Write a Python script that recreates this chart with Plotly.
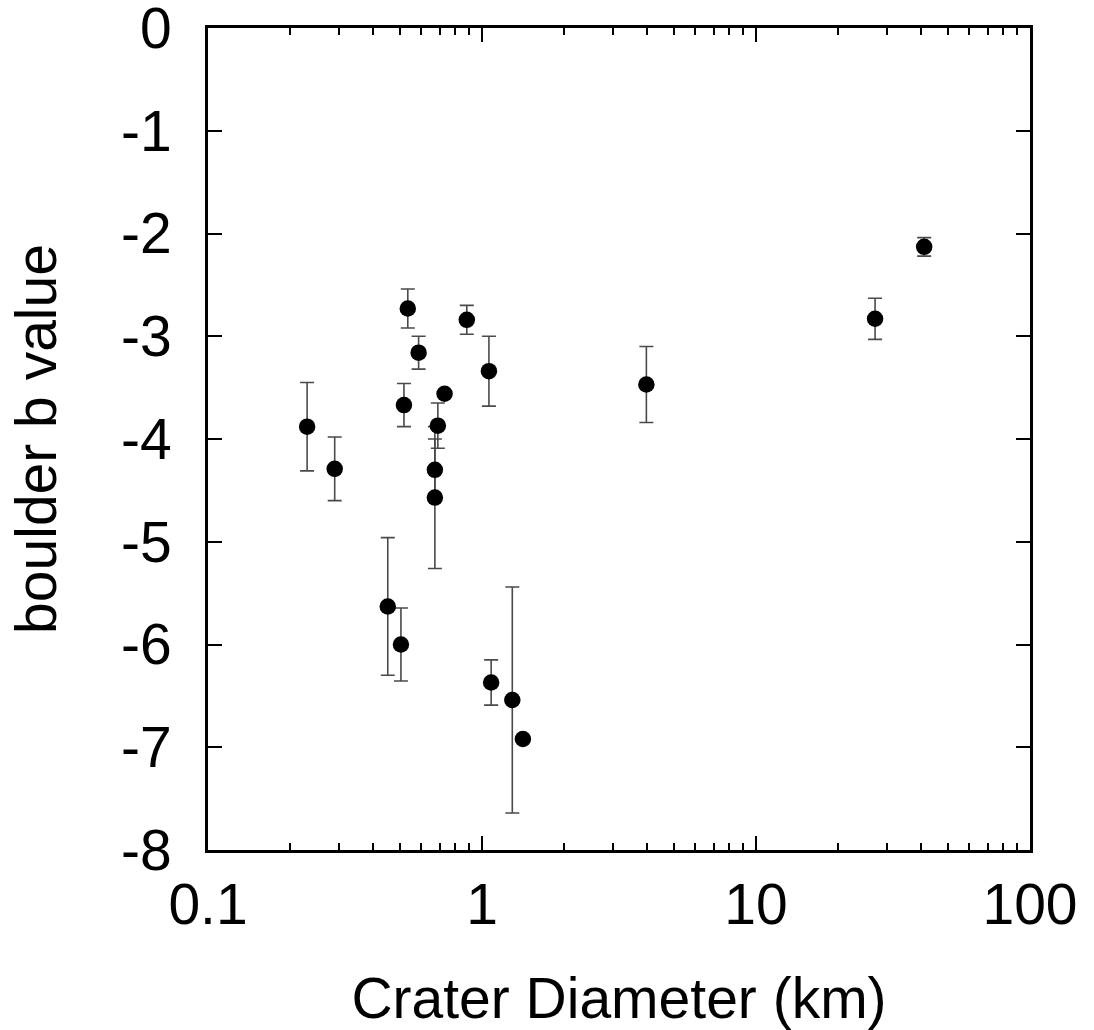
import plotly.graph_objects as go

diameter_km = [0.23, 0.29, 0.536, 0.587, 0.519, 0.73, 0.69, 0.673, 0.673, 0.88, 1.06,
               0.453, 0.506, 1.08, 1.29, 1.41, 3.98, 27.2, 41.1]
b_value = [-3.88, -4.29, -2.73, -3.16, -3.67, -3.56, -3.87, -4.30, -4.57, -2.84, -3.34,
           -5.63, -6.00, -6.37, -6.54, -6.92, -3.47, -2.83, -2.13]
b_error = [0.43, 0.31, 0.19, 0.16, 0.21, 0.0, 0.22, 0.30, 0.69, 0.14, 0.34,
           0.67, 0.355, 0.22, 1.10, 0.0, 0.37, 0.20, 0.09]

x_tickvals = [0.1, 1, 10, 100]
x_ticktext = ["0.1", "1", "10", "100"]
y_tickvals = [0, -1, -2, -3, -4, -5, -6, -7, -8]
y_ticktext = ["0", "-1", "-2", "-3", "-4", "-5", "-6", "-7", "-8"]

FONT = "Liberation Sans, Arial, Helvetica, sans-serif"

fig = go.Figure()
fig.add_trace(go.Scatter(
    x=diameter_km, y=b_value, mode="markers",
    marker=dict(size=16.5, color="black"),
    error_y=dict(type="data", array=b_error, visible=True,
                 color="#4a4a4a", thickness=1.6, width=7),
    showlegend=False,
))

fig.update_layout(
    width=1094, height=1030,
    margin=dict(l=208, r=64, t=28, b=180),
    paper_bgcolor="white", plot_bgcolor="white",
    font=dict(family=FONT, size=57, color="black"),
    xaxis=dict(
        type="log", range=[-1, 2], automargin=False,
        tickvals=x_tickvals, ticktext=x_ticktext,
        ticks="inside", ticklen=14, tickwidth=2, tickcolor="black",
        minor=dict(ticks="inside", ticklen=7, tickwidth=2, tickcolor="black", dtick="D1"),
        showline=True, linecolor="black", linewidth=3, mirror="allticks",
        showgrid=False, zeroline=False,
        tickfont=dict(size=57),
        ticklabelstandoff=3, ticklabeloverflow="allow",
        title=dict(text="Crater Diameter (km)", font=dict(size=57), standoff=50),
    ),
    yaxis=dict(
        range=[-8, 0], automargin=False,
        tickvals=y_tickvals, ticktext=y_ticktext,
        ticks="inside", ticklen=14, tickwidth=2, tickcolor="black",
        showline=True, linecolor="black", linewidth=3, mirror="allticks",
        showgrid=False, zeroline=False,
        tickfont=dict(size=57),
        ticklabelstandoff=22, ticklabeloverflow="allow",
        title=dict(text="boulder b value", font=dict(size=57), standoff=46),
    ),
)

fig.write_html("out.html")
